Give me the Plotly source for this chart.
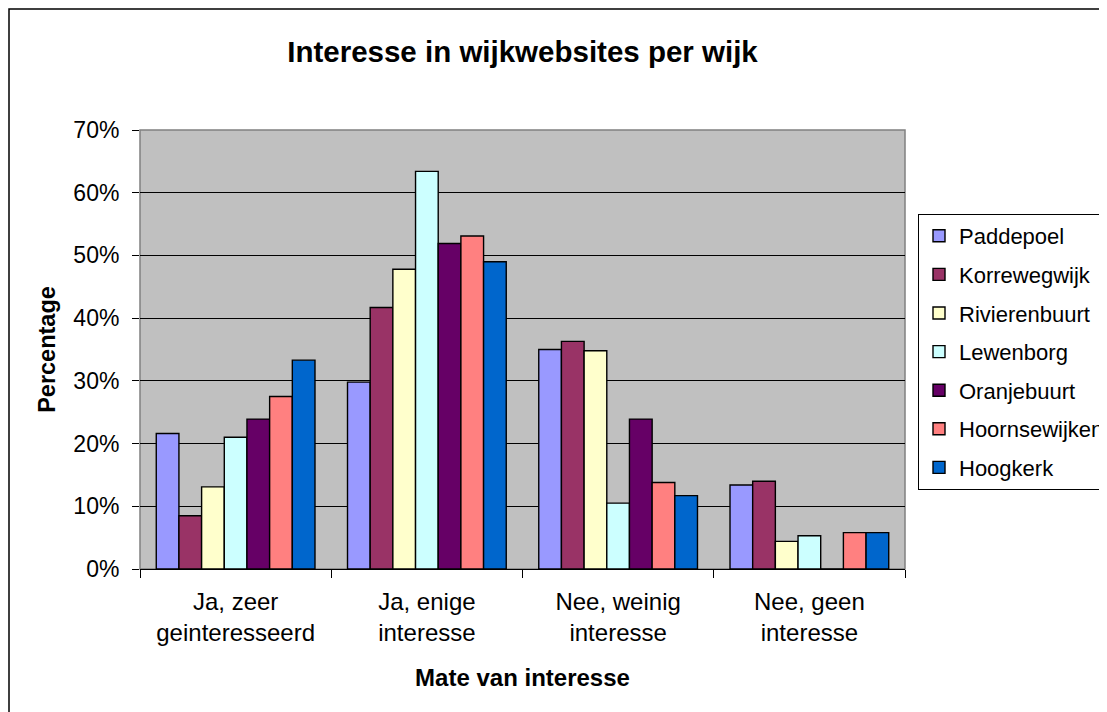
import plotly.graph_objects as go

categories = ["Ja, zeer<br>geinteresseerd", "Ja, enige<br>interesse", "Nee, weinig<br>interesse", "Nee, geen<br>interesse"]
wijken = ["Paddepoel", "Korrewegwijk", "Rivierenbuurt", "Lewenborg", "Oranjebuurt", "Hoornsewijken", "Hoogkerk"]
colors = ["#9999FF", "#993366", "#FFFFCC", "#CCFFFF", "#660066", "#FF8080", "#0066CC"]

paddepoel = [0.216, 0.298, 0.350, 0.134]
korrewegwijk = [0.085, 0.417, 0.363, 0.140]
rivierenbuurt = [0.131, 0.478, 0.348, 0.044]
lewenborg = [0.210, 0.634, 0.105, 0.053]
oranjebuurt = [0.239, 0.519, 0.239, 0.0]
hoornsewijken = [0.275, 0.531, 0.138, 0.058]
hoogkerk = [0.333, 0.490, 0.117, 0.058]

series = [paddepoel, korrewegwijk, rivierenbuurt, lewenborg, oranjebuurt, hoornsewijken, hoogkerk]

FONT = "Liberation Sans, Arial, sans-serif"

W, H = 1099, 704
L, T, R, B = 132, 122, 202, 143
PW, PH = W - L - R, H - T - B

fig = go.Figure()
for name, vals, col in zip(wijken, series, colors):
    fig.add_trace(go.Bar(
        x=categories, y=vals, name=name, legendgroup=name,
        marker=dict(color=col, line=dict(color="black", width=1.4)),
    ))

fig.update_layout(
    width=W, height=H,
    margin=dict(l=L, r=R, t=T, b=B, autoexpand=False),
    paper_bgcolor="white",
    plot_bgcolor="#C0C0C0",
    barmode="group",
    bargap=0.17,
    bargroupgap=0,
    font=dict(family=FONT, size=23, color="black"),
    title=dict(text="<b>Interesse in wijkwebsites per wijk</b>", x=0.5, xref="paper",
               xanchor="center", y=1 - 44 / H, yanchor="middle",
               font=dict(family=FONT, size=29.5, color="black")),
    legend=dict(x=(918 - 140) / PW, xanchor="left", y=(569 - 214) / PH, yanchor="top",
                bgcolor="white", bordercolor="black", borderwidth=1,
                font=dict(family=FONT, size=22, color="black"),
                tracegroupgap=7, itemwidth=30),
    showlegend=True,
)

fig.update_xaxes(
    tickson="boundaries", ticks="outside", ticklen=8, tickcolor="black", tickwidth=1,
    showline=True, linecolor="black", linewidth=1,
    showgrid=False,
    ticklabelstandoff=11,
    title=dict(text="<b>Mate van interesse</b>", font=dict(family=FONT, size=24), standoff=24),
    tickfont=dict(family=FONT, size=24),
)
fig.update_yaxes(
    range=[0, 0.7], dtick=0.1, tickformat=".0%",
    ticks="outside", ticklen=7, tickcolor="black", tickwidth=1,
    showline=False,
    showgrid=True, gridcolor="black", gridwidth=1,
    zeroline=False,
    ticklabelstandoff=8,
    title=dict(text="<b>Percentage</b>", font=dict(family=FONT, size=23.5), standoff=11),
    tickfont=dict(family=FONT, size=23),
)

# plot area border (gray) and chart area border (black)
fig.add_shape(type="rect", xref="paper", yref="paper", x0=0, x1=1, y0=0, y1=1,
              line=dict(color="#808080", width=1.5), fillcolor="rgba(0,0,0,0)", layer="below")
fig.add_shape(type="rect", xref="paper", yref="paper",
              x0=(1 - L) / PW, x1=(W + 30 - L) / PW, y0=-(B + 30) / PH, y1=(PH + T - 1) / PH,
              line=dict(color="black", width=1.5), fillcolor="rgba(0,0,0,0)")

fig.write_html("out.html")
